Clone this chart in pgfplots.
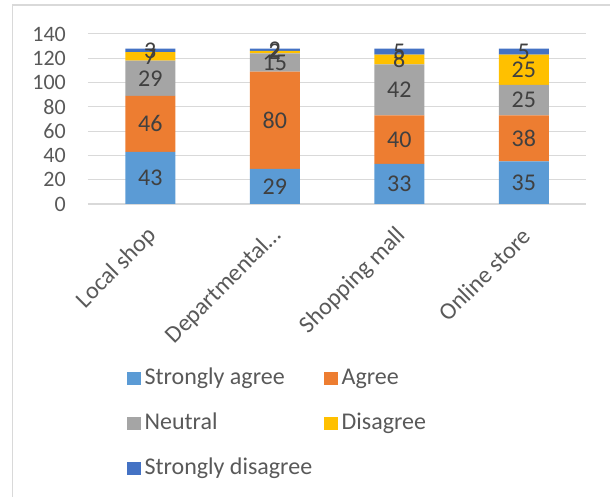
\documentclass[border=0pt]{standalone}
\usepackage{pgfplots}
\usepackage{pgfplotstable}
\pgfplotsset{compat=1.18}
\usepackage{fontspec}
\setmainfont{Carlito}

\definecolor{sagree}{HTML}{5B9BD5}
\definecolor{agree}{HTML}{ED7D31}
\definecolor{neutral}{HTML}{A5A5A5}
\definecolor{disagree}{HTML}{FFC000}
\definecolor{sdisagree}{HTML}{4472C4}
\definecolor{gridgray}{HTML}{D9D9D9}
\definecolor{labgray}{HTML}{595959}
\definecolor{valgray}{HTML}{404040}

% Survey responses per shop type: Local shop, Departmental, Shopping mall, Online store
\pgfplotstableread{
x sa  ag  ne  di  sd
0 43  46  29  7   3
1 29  80  15  2   2
2 33  40  42  8   5
3 35  38  25  25  5
}\resp

\pgfplotsset{
  panel/.style={
    at={(88pt,293pt)}, anchor=south west,
    scale only axis, width=498pt, height=170pt,
    xmin=-0.5, xmax=3.5, ymin=0, ymax=140,
    /pgf/number format/assume math mode=true,
  }
}

\begin{document}
\begin{tikzpicture}
\path[use as bounding box] (0,0) rectangle (610pt,497pt);
% chart frame
\draw[gridgray, line width=1.5pt] (12.7pt,0) -- (12.7pt,492pt) -- (611pt,492pt);
\begin{axis}[
  panel,
  ybar stacked, bar width=50pt,
  xtick={0,1,2,3},
  xticklabels={Local shop, Departmental\ldots, Shopping mall, Online store},
  ytick={0,20,...,140},
  major tick length=0pt,
  axis x line*=bottom, axis y line*=left,
  x axis line style={draw=gridgray, line width=1.5pt},
  y axis line style={draw=none},
  ymajorgrids, grid style={gridgray, line width=1pt},
  tick label style={font=\fontsize{22}{26}\selectfont, text=labgray},
  yticklabel style={inner sep=0pt, xshift=-22pt},
  xticklabel style={inner sep=0pt, xshift=3pt, yshift=-28pt, rotate=45, anchor=east,
                    font=\fontsize{24}{28}\selectfont},
  legend columns=2,
  legend cell align=left,
  legend image code/.code={\fill[#1] (0pt,-6.7pt) rectangle (13.4pt,6.7pt);},
  legend style={draw=none, fill=none, anchor=north west, inner sep=0pt,
    at={(axis description cs:0.0783,-0.959)},
    font=\fontsize{24}{28}\selectfont, text=labgray,
    nodes={inner xsep=4pt, inner ysep=0pt, text height=17pt, text depth=5pt},
    row sep=23pt,
    /tikz/every even column/.append style={column sep=8pt}},
]
\addplot[fill=sagree, draw=none] table[x=x, y=sa] {\resp};
\addplot[fill=agree, draw=none] table[x=x, y=ag] {\resp};
\addplot[fill=neutral, draw=none] table[x=x, y=ne] {\resp};
\addplot[fill=disagree, draw=none] table[x=x, y=di] {\resp};
\addplot[fill=sdisagree, draw=none] table[x=x, y=sd] {\resp};
\legend{Strongly agree, Agree, Neutral, Disagree, Strongly disagree}
\end{axis}
% value labels, centred in each segment
\begin{axis}[
  panel, hide axis, clip=false,
  nodes near coords, point meta=explicit,
  every node near coord/.append style={anchor=center, inner sep=0pt,
      font=\fontsize{24}{28}\selectfont, text=valgray},
]
\addplot[draw=none] table[x=x, y expr=\thisrow{sa}/2, meta=sa] {\resp};
\addplot[draw=none] table[x=x, y expr=\thisrow{sa}+\thisrow{ag}/2, meta=ag] {\resp};
\addplot[draw=none] table[x=x, y expr=\thisrow{sa}+\thisrow{ag}+\thisrow{ne}/2, meta=ne] {\resp};
\addplot[draw=none] table[x=x, y expr=\thisrow{sa}+\thisrow{ag}+\thisrow{ne}+\thisrow{di}/2, meta=di] {\resp};
\addplot[draw=none] table[x=x, y expr=\thisrow{sa}+\thisrow{ag}+\thisrow{ne}+\thisrow{di}+\thisrow{sd}/2, meta=sd] {\resp};
\end{axis}
\end{tikzpicture}
\end{document}
